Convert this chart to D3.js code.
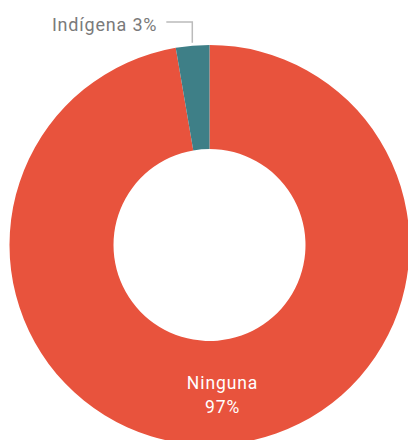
<!DOCTYPE html>
<html>
<head>
<meta charset="utf-8">
<script src="https://cdn.jsdelivr.net/npm/d3@7"></script>
<style>
  body { margin: 0; background: #fff; }
  svg { display: block; font-family: Roboto, "Noto Sans", sans-serif; }
</style>
</head>
<body>
<svg id="chart" width="408" height="440"></svg>
<script>
const categories = ["Ninguna", "Indígena"];
const values = [97.3, 2.7];
const labels = ["97%", "3%"];
const colors = ["#E8533D", "#3E7F87"];

const svg = d3.select("#chart");
const cx = 209.5, cy = 245;
const outerR = 200, innerR = 96;

const pie = d3.pie().sort(null).value((d) => d.value);
const arcs = pie(categories.map((c, i) => ({ name: c, value: values[i], label: labels[i] })));
const arc = d3.arc().innerRadius(innerR).outerRadius(outerR);

const g = svg.append("g").attr("transform", `translate(${cx},${cy})`);

g.selectAll("path")
  .data(arcs)
  .enter()
  .append("path")
  .attr("d", arc)
  .attr("fill", (d, i) => colors[i]);

// big slice: label inside at centroid
const big = arcs[0];
const [bx, by] = arc.centroid(big);
const inner = g.append("text")
  .attr("text-anchor", "middle")
  .attr("fill", "#fff")
  .attr("font-size", 17.5)
  .attr("letter-spacing", 0.9);
inner.append("tspan").attr("x", bx + 0.5).attr("y", by - 3).text(big.data.name);
inner.append("tspan").attr("x", bx + 0.5).attr("y", by + 21).text(big.data.label);

// small slice: outside label with elbow leader
const small = arcs[1];
const mid = (small.startAngle + small.endAngle) / 2;
const edge = outerR + 3;
const px = Math.sin(mid) * edge;
const py = -Math.cos(mid) * edge;
const elbowY = -cy + 22;
g.append("path")
  .attr("d", `M${px},${py}V${elbowY}H${px - 26}`)
  .attr("fill", "none")
  .attr("stroke", "#bbb")
  .attr("stroke-width", 1.5);
g.append("text")
  .attr("x", px - 35)
  .attr("y", elbowY + 8.5)
  .attr("text-anchor", "end")
  .attr("fill", "#7a7a7a")
  .attr("font-size", 18)
  .attr("letter-spacing", 0.8)
  .text(`${small.data.name} ${small.data.label}`);
</script>
</body>
</html>
